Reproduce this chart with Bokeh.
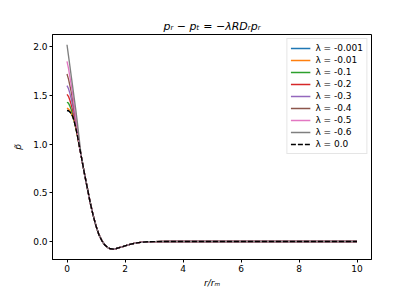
from bokeh.plotting import figure
from bokeh.models import Range1d, FixedTicker, NumeralTickFormatter, Legend, LegendItem
from bokeh.embed import file_html
from bokeh.resources import INLINE

# shared radial grid
r_head = [0.0, 0.05, 0.1, 0.15, 0.2, 0.25, 0.3, 0.35, 0.4, 0.45]
r_tail = [0.5, 0.6, 0.7, 0.8, 0.9, 1.0, 1.1, 1.2, 1.3, 1.4, 1.5, 1.6, 1.7, 1.8,
          1.9, 2.0, 2.2, 2.4, 2.6, 2.8, 3.0, 3.5, 4.0, 5.0, 6.0, 7.0, 8.0, 9.0, 10.0]
p_tail = [0.86, 0.70, 0.55, 0.40, 0.27, 0.16, 0.07, 0.01, -0.035, -0.06, -0.075,
          -0.078, -0.072, -0.064, -0.055, -0.045, -0.028, -0.015, -0.007, -0.003,
          -0.001, 0.0, 0.0, 0.0, 0.0, 0.0, 0.0, 0.0, 0.0]

labels = ["λ = -0.001", "λ = -0.01", "λ = -0.1", "λ = -0.2", "λ = -0.3",
          "λ = -0.4", "λ = -0.5", "λ = -0.6", "λ = 0.0"]
p_head_0001 = [1.346, 1.343, 1.331, 1.311, 1.28, 1.23, 1.17, 1.10, 1.02, 0.94]
p_head_001 = [1.37, 1.36, 1.34, 1.315, 1.28, 1.23, 1.17, 1.10, 1.02, 0.94]
p_head_01 = [1.43, 1.42, 1.39, 1.35, 1.30, 1.245, 1.18, 1.105, 1.02, 0.94]
p_head_02 = [1.51, 1.49, 1.45, 1.40, 1.34, 1.27, 1.195, 1.11, 1.025, 0.94]
p_head_03 = [1.60, 1.57, 1.52, 1.46, 1.39, 1.31, 1.22, 1.13, 1.03, 0.94]
p_head_04 = [1.72, 1.67, 1.60, 1.53, 1.44, 1.35, 1.25, 1.15, 1.04, 0.945]
p_head_05 = [1.85, 1.78, 1.69, 1.60, 1.50, 1.39, 1.28, 1.17, 1.055, 0.95]
p_head_06 = [2.02, 1.91, 1.80, 1.69, 1.58, 1.47, 1.36, 1.24, 1.11, 0.98]
p_head_0 = [1.345, 1.342, 1.33, 1.31, 1.28, 1.23, 1.17, 1.10, 1.02, 0.94]
heads = [p_head_0001, p_head_001, p_head_01, p_head_02, p_head_03,
         p_head_04, p_head_05, p_head_06, p_head_0]
colors = ["#1f77b4", "#ff7f0e", "#2ca02c", "#d62728", "#9467bd",
          "#8c564b", "#e377c2", "#7f7f7f", "black"]

x_ticks = [0, 2, 4, 6, 8, 10]
y_ticks = [0.0, 0.5, 1.0, 1.5, 2.0]

FONT = "DejaVu Sans"

p = figure(frame_width=319, frame_height=225, output_backend="svg",
           toolbar_location=None, x_range=Range1d(-0.5, 10.5),
           y_range=Range1d(-0.185, 2.125),
           min_border_left=52, min_border_right=40, min_border_top=34,
           min_border_bottom=31)
p.title.text = "pᵣ − pₜ = −λRDᵣpᵣ"
p.title.align = "center"
p.title.text_font = FONT
p.title.text_font_size = "11px"
p.title.text_font_style = "italic"
p.title.text_color = "black"
p.title.standoff = 3

p.grid.visible = False
p.outline_line_color = "black"
p.outline_line_width = 1
p.background_fill_color = "white"
p.border_fill_color = "white"

for ax in (p.xaxis[0], p.yaxis[0]):
    ax.axis_line_color = "black"
    ax.major_tick_line_color = "black"
    ax.minor_tick_line_color = None
    ax.major_tick_in = 0
    ax.major_tick_out = 3
    ax.major_label_text_font = FONT
    ax.major_label_text_font_size = "9px"
    ax.major_label_text_color = "black"
    ax.axis_label_text_font = FONT
    ax.axis_label_text_font_size = "9px"
    ax.axis_label_text_font_style = "italic"
    ax.axis_label_text_color = "black"
    ax.major_label_standoff = 2

p.xaxis.ticker = FixedTicker(ticks=x_ticks)
p.yaxis.ticker = FixedTicker(ticks=y_ticks)
p.yaxis.formatter = NumeralTickFormatter(format="0.0")
p.xaxis.axis_label = "r/rₘ"
p.yaxis.axis_label = "p̃"
p.xaxis.axis_label_standoff = 3
p.yaxis.axis_label_standoff = 7

items = []
for lab, head, col in zip(labels, heads, colors):
    xs = r_head + r_tail
    ys = head + p_tail
    dash = "5 2" if col == "black" else "solid"
    r = p.line(xs, ys, line_color=col, line_width=1.35, line_dash=dash)
    items.append(LegendItem(label=lab, renderers=[r]))

legend = Legend(items=items, location="top_right")
legend.label_text_font = FONT
legend.label_text_font_size = "9px"
legend.label_text_color = "black"
legend.label_height = 12
legend.glyph_height = 12
legend.glyph_width = 20
legend.label_standoff = 5
legend.spacing = 0
legend.padding = 3
legend.margin = 4
legend.border_line_color = "#cccccc"
legend.border_line_width = 1
legend.background_fill_alpha = 0.8
p.add_layout(legend)

open("out.html", "w").write(file_html(p, INLINE))
